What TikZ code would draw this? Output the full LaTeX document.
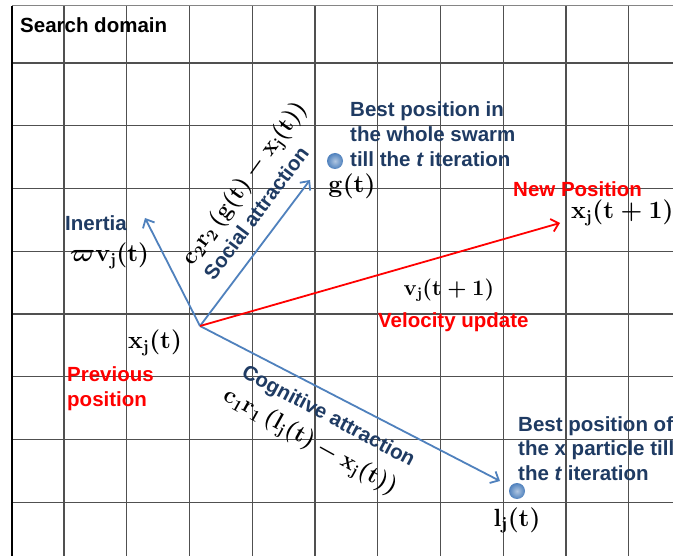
\documentclass[tikz,border=0pt]{standalone}
\usepackage[no-math]{fontspec}
\usepackage{amsmath}
\newfontfamily\lblfont{Liberation Sans}
\usetikzlibrary{positioning,arrows.meta}

\definecolor{swarmnavy}{RGB}{31,59,99}
\definecolor{swarmblue}{RGB}{79,129,189}
\definecolor{gridgray}{RGB}{80,80,80}

\begin{document}
\begin{tikzpicture}[
    x=1pt, y=-1pt,
    >={Straight Barb[length=7pt,width=13pt]},
    gridline/.style={draw=gridgray, line width=1.1pt},
    txt/.style={font=\lblfont\bfseries\fontsize{20.5}{25}\selectfont, inner sep=0pt, align=left},
    navylbl/.style={txt, text=swarmnavy},
    redlbl/.style={txt, text=red},
    mth/.style={font=\fontsize{25}{27}\selectfont\boldmath, inner sep=0pt},
    smallmth/.style={mth, scale=0.945},
    pull/.style={->, draw=swarmblue, line width=1.8pt},
    move/.style={->, draw=red, line width=1.8pt},
    best/.style={circle, inner sep=0pt, minimum size=16pt, shading=radial,
                 inner color=swarmblue!45!white, outer color=swarmblue},
]
\path[use as bounding box, clip] (0,0) rectangle (673,556);
\fill[white] (0,0) rectangle (673,556);

% ---- Search domain grid -------------------------------------------
\foreach \i in {0,...,9}
    \draw[gridline] ({64+62.75*\i},6) -- ({64+62.75*\i},556);
\foreach \j in {0,...,7}
    \draw[gridline] (12,{63+62.75*\j}) -- (673,{63+62.75*\j});
\draw[gridgray!70, line width=1pt] (12,6) -- (673,6);
\draw[black, line width=1.3pt] (12,6) -- (12,556);
\node[txt, anchor=base west] (domain) at (20,33) {Search domain};

% ---- Particle and best positions ----------------------------------
\coordinate (xj) at (200,326);
\node[best] (gbest) at (335,161) {};
\node[best] (lbest) at (517,491) {};
\node[mth] (glbl) at (352,186) {$\mathbf{g}(\mathbf{t})$};
\node[mth, below=8pt of lbest] (llbl) {$\mathbf{l}_{\mathbf{j}}(\mathbf{t})$};
\node[mth] (xlbl) at (155,343) {$\mathbf{x}_{\mathbf{j}}(\mathbf{t})$};
\node[navylbl, anchor=base west] (gtxt) at (350,167)
    {Best position in\\the whole swarm\\till the \textit{t} iteration};
\node[navylbl, anchor=base west] (ltxt) at (518,481)
    {Best position of\\the x particle till\\the \textit{t} iteration};
\node[redlbl, anchor=base west] (prev) at (67,407) {Previous\\position};

% ---- Update vectors -----------------------------------------------
\coordinate (itip) at (145,218);
\coordinate (stip) at (310,180);
\coordinate (ctip) at (500,481);
\coordinate (ntip) at (560,223);

\draw[pull] (xj) -- (itip);
\draw[pull] (xj) -- (stip);
\draw[pull] (xj) -- (ctip);
\draw[move] (xj) -- (ntip);

% ---- Vector labels ------------------------------------------------
\node[navylbl, anchor=base west] (inertia) at (65,231) {Inertia};
\node[mth, anchor=base west] (ilbl) at (70,262) {$\varpi\mathbf{v}_{\mathbf{j}}(\mathbf{t})$};
\node[navylbl, rotate=53] (social) at (256,213) {Social attraction};
\node[smallmth, rotate=54] (slbl) at (245,184)
    {$\mathbf{c}_2\mathbf{r}_2\left(\mathbf{g}(\mathbf{t})-\mathbf{x}_{\mathbf{j}}(\mathbf{t})\right)$};
\node[navylbl, rotate=-28] (cognitive) at (328,417) {Cognitive attraction};
\node[smallmth, rotate=-29] (clbl) at (310,442)
    {$\mathbf{c}_1\mathbf{r}_1\left(\mathbf{l}_{\mathbf{j}}(\mathbf{t})-\mathbf{x}_{\mathbf{j}}(\mathbf{t})\right)$};
\node[redlbl, anchor=base west] (newpos) at (513,197) {New Position};
\node[mth, anchor=west] (nlbl) at (571,213) {$\mathbf{x}_{\mathbf{j}}(\mathbf{t}+\mathbf{1})$};
\node[mth, scale=0.885] (vlbl) at (449,290) {$\mathbf{v}_{\mathbf{j}}(\mathbf{t}+\mathbf{1})$};
\node[redlbl, anchor=base west] (velocity) at (378,328) {Velocity update};

\end{tikzpicture}
\end{document}
